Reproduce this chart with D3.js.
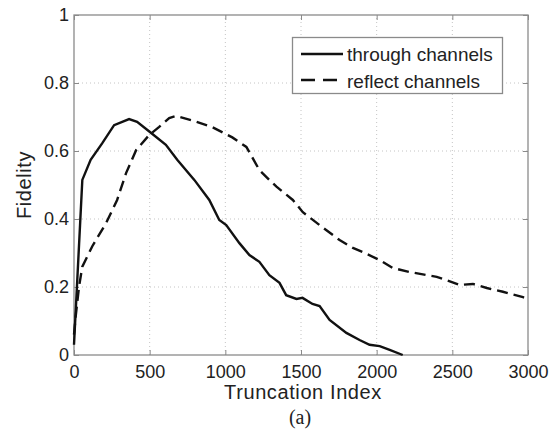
<!DOCTYPE html>
<html>
<head>
<meta charset="utf-8">
<script src="https://cdn.jsdelivr.net/npm/d3@7"></script>
<style>
  body { margin: 0; background: #fff; }
  svg text { font-family: "Liberation Sans", Arial, sans-serif; fill: #222; }
</style>
</head>
<body>
<div id="chart"></div>
<script>
// values
const throughX = [0, 55, 110, 187, 265, 364, 417, 510, 607, 682, 795, 894, 960, 1006, 1093, 1159, 1225, 1291, 1358, 1402, 1470, 1510, 1576, 1623, 1689, 1800, 1887, 1953, 2020, 2086, 2172];
const throughY = [0.03, 0.515, 0.574, 0.623, 0.676, 0.694, 0.686, 0.653, 0.618, 0.574, 0.515, 0.456, 0.397, 0.382, 0.329, 0.294, 0.274, 0.235, 0.212, 0.176, 0.165, 0.168, 0.15, 0.144, 0.103, 0.065, 0.044, 0.03, 0.026, 0.015, 0];
const reflectX = [0, 11, 33, 55, 121, 212, 285, 344, 411, 497, 563, 629, 675, 781, 914, 1046, 1139, 1225, 1291, 1338, 1446, 1512, 1623, 1755, 1843, 1907, 2020, 2106, 2219, 2331, 2397, 2464, 2550, 2636, 2728, 2834, 2967, 3000];
const reflectY = [0.06, 0.113, 0.2, 0.26, 0.32, 0.388, 0.456, 0.535, 0.603, 0.647, 0.671, 0.697, 0.703, 0.69, 0.67, 0.64, 0.612, 0.544, 0.515, 0.495, 0.456, 0.42, 0.382, 0.338, 0.315, 0.303, 0.279, 0.256, 0.244, 0.235, 0.23, 0.22, 0.206, 0.209, 0.197, 0.186, 0.17, 0.165];
const xTicks = [0, 500, 1000, 1500, 2000, 2500, 3000];
const yTicks = [0, 0.2, 0.4, 0.6, 0.8, 1];
const seriesNames = ["through channels", "reflect channels"];

const width = 553, height = 435;
const margin = {left: 74, right: 25, top: 15, bottom: 80};

const svg = d3.select("#chart").append("svg")
  .attr("width", width)
  .attr("height", height);

const x = d3.scaleLinear().domain([0, 3000]).range([margin.left, width - margin.right]);
const y = d3.scaleLinear().domain([0, 1]).range([height - margin.bottom, margin.top]);

// dotted grid
svg.append("g").selectAll("line")
  .data(xTicks.slice(1, -1))
  .enter().append("line")
    .attr("x1", d => x(d)).attr("x2", d => x(d))
    .attr("y1", y(0)).attr("y2", y(1))
    .attr("stroke", "#c4c4c4").attr("stroke-dasharray", "1,3");
svg.append("g").selectAll("line")
  .data(yTicks.slice(1, -1))
  .enter().append("line")
    .attr("x1", x(0)).attr("x2", x(3000))
    .attr("y1", d => y(d)).attr("y2", d => y(d))
    .attr("stroke", "#c4c4c4").attr("stroke-dasharray", "1,3");

// axes with inward ticks, matlab style
const axisColor = "#8a8a8a";
function styleAxis(g) {
  g.select(".domain").remove();
  g.selectAll(".tick line").attr("stroke", axisColor);
  g.selectAll(".tick text").attr("font-size", 18).attr("fill", "#222");
}
svg.append("g")
  .attr("transform", `translate(0,${y(0)})`)
  .call(d3.axisBottom(x).tickValues(xTicks).tickSize(-5).tickPadding(10).tickFormat(d3.format("d")))
  .call(styleAxis);
svg.append("g")
  .attr("transform", `translate(0,${y(1)})`)
  .call(d3.axisTop(x).tickValues(xTicks).tickSize(-5).tickFormat(""))
  .call(styleAxis);
svg.append("g")
  .attr("transform", `translate(${x(0)},0)`)
  .call(d3.axisLeft(y).tickValues(yTicks).tickSize(-5).tickPadding(5).tickFormat(d => String(+d.toFixed(1))))
  .call(styleAxis);
svg.append("g")
  .attr("transform", `translate(${x(3000)},0)`)
  .call(d3.axisRight(y).tickValues(yTicks).tickSize(-5).tickFormat(""))
  .call(styleAxis);

svg.append("rect")
  .attr("x", x(0)).attr("y", y(1))
  .attr("width", x(3000) - x(0)).attr("height", y(0) - y(1))
  .attr("fill", "none").attr("stroke", axisColor).attr("stroke-width", 1.3);

// curves
const line = d3.line().x(d => x(d[0])).y(d => y(d[1]));
const throughData = d3.zip(throughX, throughY);
const reflectData = d3.zip(reflectX, reflectY);

svg.append("path")
  .datum(reflectData)
  .attr("d", line)
  .attr("fill", "none").attr("stroke", "#111").attr("stroke-width", 2.4)
  .attr("stroke-dasharray", "11,6");
svg.append("path")
  .datum(throughData)
  .attr("d", line)
  .attr("fill", "none").attr("stroke", "#111").attr("stroke-width", 2.4);

// legend
const lg = svg.append("g");
lg.append("rect")
  .attr("x", 292.5).attr("y", 37.5).attr("width", 210).attr("height", 56)
  .attr("fill", "#fff").attr("stroke", axisColor).attr("stroke-width", 1.3);
seriesNames.forEach((name, i) => {
  const ly = 54 + i * 26;
  lg.append("line")
    .attr("x1", 301).attr("x2", 343).attr("y1", ly).attr("y2", ly)
    .attr("stroke", "#111").attr("stroke-width", 2.4)
    .attr("stroke-dasharray", i === 0 ? null : "14,8");
  lg.append("text")
    .attr("x", 347).attr("y", 60.5 + i * 27)
    .attr("font-size", 19)
    .text(name);
});

// labels
svg.append("text")
  .attr("x", 303).attr("y", 399)
  .attr("text-anchor", "middle").attr("font-size", 20)
  .attr("letter-spacing", 0.6)
  .text("Truncation Index");
svg.append("text")
  .attr("transform", `translate(31,185) rotate(-90)`)
  .attr("text-anchor", "middle").attr("font-size", 20)
  .attr("letter-spacing", 0.6)
  .text("Fidelity");
svg.append("text")
  .attr("x", 300).attr("y", 424)
  .attr("text-anchor", "middle").attr("font-size", 20)
  .style("font-family", "'Liberation Serif', 'Times New Roman', serif")
  .text("(a)");
</script>
</body>
</html>
